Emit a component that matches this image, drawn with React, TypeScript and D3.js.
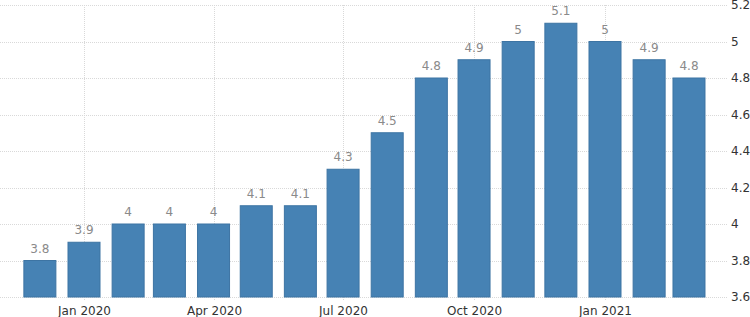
import React from "react";
import * as d3 from "d3";

const months: string[] = [
  "2019-12-01", "2020-01-01", "2020-02-01", "2020-03-01", "2020-04-01", "2020-05-01",
  "2020-06-01", "2020-07-01", "2020-08-01", "2020-09-01", "2020-10-01", "2020-11-01",
  "2020-12-01", "2021-01-01", "2021-02-01", "2021-03-01",
];
const values: number[] = [3.8, 3.9, 4, 4, 4, 4.1, 4.1, 4.3, 4.5, 4.8, 4.9, 5, 5.1, 5, 4.9, 4.8];
const xTickDates: string[] = ["2020-01-01", "2020-04-01", "2020-07-01", "2020-10-01", "2021-01-01"];
const xTickLabels: string[] = ["Jan 2020", "Apr 2020", "Jul 2020", "Oct 2020", "Jan 2021"];
const yTicks: number[] = [3.6, 3.8, 4, 4.2, 4.4, 4.6, 4.8, 5, 5.2];

const W = 750;
const H = 317;
const FONT = "'DejaVu Sans', Verdana, sans-serif";

export default function App() {
  const parse = (s: string) => new Date(s + "T00:00:00");
  const x = d3
    .scaleTime()
    .domain([parse("2020-01-01"), parse("2021-01-01")])
    .range([84, 605]);
  const y = d3.scaleLinear().domain([3.6, 5.2]).range([297, 5]);
  const barW = 32;
  const gridRight = 728;

  return (
    <svg
      width={W}
      height={H}
      style={{ position: "absolute", left: 0, top: 0, display: "block" }}
    >
      {yTicks.map((t) => (
        <g key={t}>
          <line
            x1={0}
            x2={gridRight}
            y1={Math.round(y(t)) + 0.5}
            y2={Math.round(y(t)) + 0.5}
            stroke="#d9d9d9"
            strokeDasharray="1,1"
          />
          <text
            x={731}
            y={y(t)}
            dy="0.35em"
            fontFamily={FONT}
            fontSize={12}
            fill="#333"
          >
            {String(t)}
          </text>
        </g>
      ))}
      {xTickDates.map((d, i) => {
        const xx = Math.round(x(parse(d))) + 0.5;
        return (
          <g key={d}>
            <line
              x1={xx}
              x2={xx}
              y1={5}
              y2={301}
              stroke="#d9d9d9"
              strokeDasharray="1,1"
            />
            <text
              x={xx}
              y={315}
              textAnchor="middle"
              fontFamily={FONT}
              fontSize={12}
              fill="#333"
            >
              {xTickLabels[i]}
            </text>
          </g>
        );
      })}
      {months.map((m, i) => {
        const cx = x(parse(m));
        const top = y(values[i]);
        return (
          <g key={m}>
            <rect
              x={cx - barW / 2}
              y={top}
              width={barW}
              height={y(3.6) - top}
              fill="#4682b4"
              stroke="#3d74a3"
              strokeWidth={1}
            />
            <text
              x={cx}
              y={top - 8}
              textAnchor="middle"
              fontFamily={FONT}
              fontSize={12}
              fill="#8a8a8a"
            >
              {String(values[i])}
            </text>
          </g>
        );
      })}
    </svg>
  );
}
